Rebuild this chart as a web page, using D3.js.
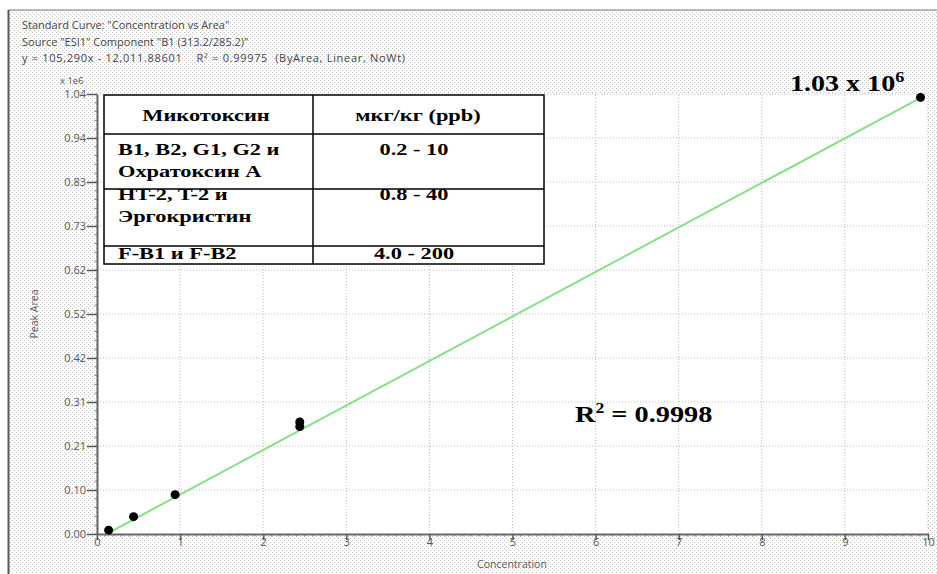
<!DOCTYPE html>
<html>
<head>
<meta charset="utf-8">
<script src="https://cdn.jsdelivr.net/npm/d3@7"></script>
<style>
  body { margin: 0; background: #fff; }
</style>
</head>
<body>
<div id="chart"></div>
<script>
// calibration points (concentration vs peak area, area in units of 1e6)
var concentration = [0.14, 0.44, 0.94, 2.44, 2.44, 9.91];
var peakArea      = [0.009, 0.041, 0.093, 0.254, 0.265, 1.032];

// fitted line
var fitX = [0.114, 9.91];
var fitY = [0.0, 1.031];

var yTicks = [0, 0.104, 0.208, 0.312, 0.416, 0.52, 0.624, 0.728, 0.832, 0.936, 1.04];
var xTicks = [0, 1, 2, 3, 4, 5, 6, 7, 8, 9, 10];

var headerLines = [
    "Standard Curve: \"Concentration vs Area\"",
    "Source \"ESI1\" Component \"B1 (313.2/285.2)\"",
    "y = 105,290x - 12,011.88601    R\u00b2 = 0.99975  (ByArea, Linear, NoWt)"
];

var tableHead = ["Микотоксин", "мкг/кг (ppb)"];
var tableNames = [["B1, B2, G1, G2 и", "Охратоксин А"], ["HT-2, T-2 и", "Эргокристин"], ["F-B1 и F-B2"]];
var tableRanges = ["0.2 - 10", "0.8 - 40", "4.0 - 200"];

var W = 937, H = 574;
var margin = {left: 97, right: 9, top: 94, bottom: 40};
var sans = "'Open Sans', 'DejaVu Sans', sans-serif";
var serif = "'Liberation Serif', 'Times New Roman', serif";

var svg = d3.select("#chart").append("svg").attr("width", W).attr("height", H)
    .style("font-family", sans);

var defs = svg.append("defs");
var pat = defs.append("pattern").attr("id", "dots").attr("width", 4).attr("height", 4).attr("patternUnits", "userSpaceOnUse");
pat.append("rect").attr("width", 4).attr("height", 4).attr("fill", "#fff");
pat.append("rect").attr("x", 0).attr("y", 0).attr("width", 1).attr("height", 1).attr("fill", "#c4c4c4");
pat.append("rect").attr("x", 2).attr("y", 2).attr("width", 1).attr("height", 1).attr("fill", "#c4c4c4");

// dotted panel + frame
svg.append("rect").attr("x", 9).attr("y", 10).attr("width", W - 9).attr("height", H - 10).attr("fill", "url(#dots)");
svg.append("line").attr("x1", 8).attr("y1", 10).attr("x2", W).attr("y2", 10).attr("stroke", "#777").attr("stroke-width", 1);
svg.append("line").attr("x1", 8.5).attr("y1", 10).attr("x2", 8.5).attr("y2", H).attr("stroke", "#555").attr("stroke-width", 2);

var x = d3.scaleLinear().domain([0, 10]).range([margin.left, W - margin.right]);
var y = d3.scaleLinear().domain([0, 1.04]).range([H - margin.bottom, margin.top]);

// white plot area
svg.append("rect").attr("x", x(0)).attr("y", y(1.04)).attr("width", x(10) - x(0)).attr("height", y(0) - y(1.04)).attr("fill", "#fff");

// header text
svg.append("g").selectAll("text").data(headerLines).enter().append("text")
    .attr("x", 22).attr("y", function(d, i){ return 29 + i * 16.5; })
    .attr("font-size", 11).attr("fill", "#444")
    .style("white-space", "pre")
    .attr("textLength", function(d, i){ return i == 2 ? 383 : null; })
    .attr("lengthAdjust", "spacing")
    .text(function(d){ return d; });

// grid
svg.append("g").selectAll("line").data(xTicks.slice(1)).enter().append("line")
    .attr("x1", function(d){ return x(d); }).attr("x2", function(d){ return x(d); })
    .attr("y1", y(0)).attr("y2", y(1.04))
    .attr("stroke", "#bbb").attr("stroke-dasharray", "1,2");
svg.append("g").selectAll("line").data(yTicks.slice(1)).enter().append("line")
    .attr("x1", x(0)).attr("x2", x(10))
    .attr("y1", function(d){ return y(d); }).attr("y2", function(d){ return y(d); })
    .attr("stroke", "#bbb").attr("stroke-dasharray", "1,2");

// axes
var xAxis = d3.axisBottom(x).tickValues(xTicks).tickFormat(d3.format("d")).tickSize(6).tickSizeOuter(0);
var yAxis = d3.axisLeft(y).tickValues(yTicks).tickFormat(d3.format(".2f")).tickSize(10).tickSizeOuter(0);

var xg = svg.append("g").attr("transform", "translate(0," + y(0) + ")").call(xAxis);
var yg = svg.append("g").attr("transform", "translate(" + x(0) + ",0)").call(yAxis);

[xg, yg].forEach(function(g){
    g.attr("font-family", null);
    g.select(".domain").attr("stroke", "#666").attr("stroke-width", 2);
    g.selectAll(".tick line").attr("stroke", "#555").attr("stroke-width", 1.5);
    g.selectAll(".tick text").attr("fill", "#555").attr("font-size", 11);
});
xg.selectAll(".tick text").attr("dy", "0.55em").attr("y", 6);
yg.selectAll(".tick text").attr("x", -11);

// minor ticks
svg.append("g").selectAll("line").data(d3.range(0, 100)).enter().append("line")
    .attr("x1", function(d){ return x(d / 10); }).attr("x2", function(d){ return x(d / 10); })
    .attr("y1", y(0)).attr("y2", y(0) + 2.5).attr("stroke", "#777");
svg.append("g").selectAll("line").data(d3.range(0, 50)).enter().append("line")
    .attr("x1", x(0) - 2.5).attr("x2", x(0))
    .attr("y1", function(d){ return y(d * 0.0208); }).attr("y2", function(d){ return y(d * 0.0208); })
    .attr("stroke", "#777");

svg.append("text").attr("x", 60).attr("y", 84).attr("font-size", 9.5).attr("fill", "#555").text("x 1e6");

svg.append("text").attr("transform", "translate(38,314) rotate(-90)")
    .attr("text-anchor", "middle").attr("font-size", 10.5).attr("fill", "#555").text("Peak Area");
svg.append("text").attr("x", 512).attr("y", 568)
    .attr("text-anchor", "middle").attr("font-size", 10.5).attr("fill", "#555").text("Concentration");

// fit line
var line = d3.line().x(function(d){ return x(d[0]); }).y(function(d){ return y(d[1]); });
svg.append("path").attr("d", line(d3.zip(fitX, fitY)))
    .attr("fill", "none").attr("stroke", "#86e086").attr("stroke-width", 2);

// points
svg.append("g").selectAll("circle").data(d3.zip(concentration, peakArea)).enter().append("circle")
    .attr("cx", function(d){ return x(d[0]); }).attr("cy", function(d){ return y(d[1]); })
    .attr("r", 4.5).attr("fill", "#000");

// table
var tbl = svg.append("g").style("font-family", serif)
    .attr("font-weight", "bold").attr("font-size", 17.5).attr("fill", "#000");
var tx0 = 104, tx1 = 313, tx2 = 544;
var rowEdges = [95, 134, 189, 246, 264];
var sx = 1.28;
function cell(px, py, t, anchor) {
    tbl.append("text").attr("transform", "translate(" + px + "," + py + ") scale(" + sx + ",1)")
        .attr("text-anchor", anchor).text(t);
}
tbl.append("rect").attr("x", tx0).attr("y", rowEdges[0]).attr("width", tx2 - tx0).attr("height", rowEdges[4] - rowEdges[0])
    .attr("fill", "#fff").attr("stroke", "#000").attr("stroke-width", 1.5);
tbl.append("line").attr("x1", tx1).attr("x2", tx1).attr("y1", rowEdges[0]).attr("y2", rowEdges[4]).attr("stroke", "#000").attr("stroke-width", 1.5);
rowEdges.slice(1, 4).forEach(function(e){
    tbl.append("line").attr("x1", tx0).attr("x2", tx2).attr("y1", e).attr("y2", e).attr("stroke", "#000").attr("stroke-width", 1.5);
});
cell(206, 121, tableHead[0], "middle");
cell(418, 121, tableHead[1], "middle");
var rowBase = [155, 200, 259];
tableNames.forEach(function(lines, i){
    lines.forEach(function(t, j){
        cell(118, rowBase[i] + j * 21.5, t, "start");
    });
    cell(414, rowBase[i], tableRanges[i], "middle");
});

// annotations
var ann = svg.append("g").style("font-family", serif)
    .attr("font-weight", "bold").attr("fill", "#000");
var t1 = ann.append("text").attr("transform", "translate(790,91) scale(1.22,1)").attr("font-size", 23);
t1.append("tspan").text("1.03 x 10");
t1.append("tspan").attr("font-size", 15).attr("dy", -9).text("6");
var t2 = ann.append("text").attr("transform", "translate(575,422) scale(1.18,1)").attr("font-size", 24);
t2.append("tspan").text("R");
t2.append("tspan").attr("font-size", 15).attr("dy", -9).text("2");
t2.append("tspan").attr("dy", 9).text(" = 0.9998");
</script>
</body>
</html>
